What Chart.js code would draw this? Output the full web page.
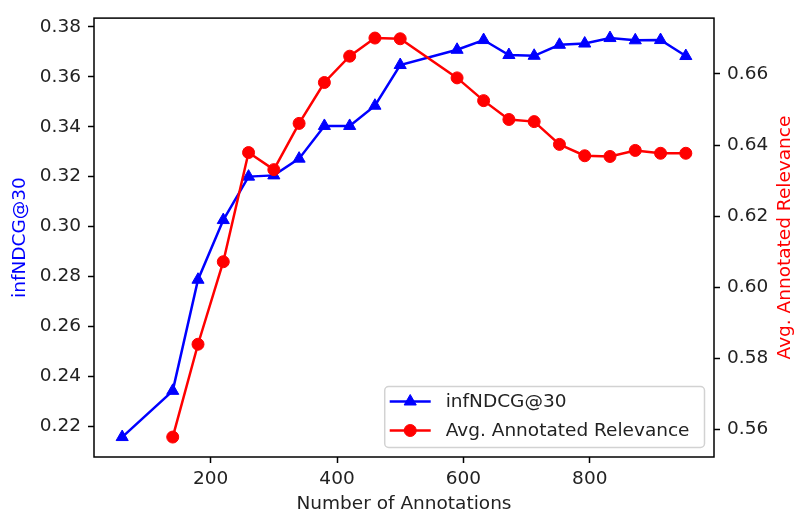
<!DOCTYPE html>
<html>
<head>
<meta charset="utf-8">
<script src="https://cdn.jsdelivr.net/npm/chart.js@4/dist/chart.umd.min.js"></script>
<style>
  html, body { margin: 0; padding: 0; background: #fff; }
  canvas { display: block; }
</style>
</head>
<body>
<canvas id="annotChart" width="795" height="515"></canvas>
<script>
// infNDCG@30 series (left axis)
const ndcgCounts = [60, 140, 180, 220, 260, 300, 340, 380, 420, 460, 500,
                    590, 632, 672, 712, 752, 792, 832, 872, 912, 952];
const ndcgValues = [0.2157, 0.2342, 0.2787, 0.3026, 0.3200, 0.3205, 0.3272, 0.3403, 0.3403, 0.3484, 0.3647,
                    0.3708, 0.3747, 0.3687, 0.3684, 0.3728, 0.3733, 0.3755, 0.3746, 0.3747, 0.3683];

// Avg. annotated relevance series (right axis)
const relevanceCounts = [140, 180, 220, 260, 300, 340, 380, 420, 460, 500,
                         590, 632, 672, 712, 752, 792, 832, 872, 912, 952];
const relevanceValues = [0.5579, 0.5840, 0.6072, 0.6379, 0.6331, 0.6461, 0.6576, 0.6650, 0.6701, 0.6699,
                         0.6589, 0.6525, 0.6472, 0.6466, 0.6402, 0.6370, 0.6368, 0.6385, 0.6377, 0.6377];

// tick labels
const xTicks = [200, 400, 600, 800];
const ndcgTicks = [0.22, 0.24, 0.26, 0.28, 0.30, 0.32, 0.34, 0.36, 0.38];
const relevanceTicks = [0.56, 0.58, 0.60, 0.62, 0.64, 0.66];

const FONT = 18.5;
const TEXT = '#222';
Chart.defaults.font.family = '"DejaVu Sans", sans-serif';
Chart.defaults.font.size = FONT;

// matplotlib style auto limits: 5% margin on each side
function paddedRange(values) {
    const lo = Math.min(...values);
    const hi = Math.max(...values);
    const pad = (hi - lo) * 0.05;
    return { min: lo - pad, max: hi + pad };
}

function toPoints(xs, ys) {
    return xs.map((x, i) => ({ x: x, y: ys[i] }));
}

const xRange = paddedRange(ndcgCounts.concat(relevanceCounts));
const ndcgRange = paddedRange(ndcgValues);
const relRange = paddedRange(relevanceValues);

const tickGrid = {
    drawOnChartArea: false,
    drawTicks: true,
    tickLength: 6,
    tickWidth: 1.5,
    tickColor: '#000',
    color: '#000',
};

// full box around the plot area
const framePlugin = {
    id: 'frame',
    afterDatasetsDraw(chart) {
        const { ctx, chartArea: a } = chart;
        ctx.save();
        ctx.strokeStyle = '#000';
        ctx.lineWidth = 1.5;
        ctx.strokeRect(a.left, a.top, a.right - a.left, a.bottom - a.top);
        ctx.restore();
    }
};

// right axis label reads bottom-to-top like matplotlib
const rightTitlePlugin = {
    id: 'rightTitle',
    afterDraw(chart) {
        const { ctx, chartArea: a } = chart;
        const scale = chart.scales.y1;
        ctx.save();
        ctx.translate(scale.right - 10, (a.top + a.bottom) / 2);
        ctx.rotate(-Math.PI / 2);
        ctx.font = `${FONT}px "DejaVu Sans"`;
        ctx.fillStyle = '#ff0000';
        ctx.textAlign = 'center';
        ctx.textBaseline = 'middle';
        ctx.fillText('Avg. Annotated Relevance', 0, 0);
        ctx.restore();
    }
};

// legend box in the lower right corner of the plot
const boxLegendPlugin = {
    id: 'boxLegend',
    afterDraw(chart) {
        const { ctx, chartArea: a } = chart;
        const sets = chart.data.datasets;
        ctx.save();
        ctx.font = `${FONT}px "DejaVu Sans"`;
        const textW = Math.max(...sets.map(d => ctx.measureText(d.label).width));
        const w = 61 + textW + 15;
        const h = 61;
        const right = a.right - 9.5;
        const bottom = a.bottom - 9.5;
        const left = right - w;
        const top = bottom - h;

        ctx.beginPath();
        ctx.roundRect(left, top, w, h, 4);
        ctx.fillStyle = 'rgba(255,255,255,0.8)';
        ctx.fill();
        ctx.strokeStyle = '#d2d2d2';
        ctx.lineWidth = 1.5;
        ctx.stroke();

        sets.forEach((d, i) => {
            const y = top + 15 + i * 29;
            ctx.strokeStyle = d.borderColor;
            ctx.lineWidth = d.borderWidth;
            ctx.beginPath();
            ctx.moveTo(left + 5, y);
            ctx.lineTo(left + 46, y);
            ctx.stroke();
            ctx.fillStyle = d.backgroundColor;
            ctx.lineWidth = 1;
            Chart.helpers.drawPoint(ctx, {
                pointStyle: d.pointStyle,
                radius: d.pointRadius,
                rotation: 0,
                borderWidth: 1
            }, left + 25.5, y);
            ctx.fillStyle = TEXT;
            ctx.textAlign = 'left';
            ctx.textBaseline = 'middle';
            ctx.fillText(d.label, left + 61, y + 1);
        });
        ctx.restore();
    }
};

function createChart(ctx) {
    return new Chart(ctx, {
        type: 'line',
        data: {
            datasets: [{
                label: 'infNDCG@30',
                data: toPoints(ndcgCounts, ndcgValues),
                yAxisID: 'y',
                order: 1,
                borderColor: '#0000ff',
                backgroundColor: '#0000ff',
                borderWidth: 2.5,
                pointStyle: 'triangle',
                pointRadius: 7,
                pointBorderWidth: 1,
                pointBorderColor: '#0000ff',
                pointBackgroundColor: '#0000ff',
                tension: 0,
            }, {
                label: 'Avg. Annotated Relevance',
                data: toPoints(relevanceCounts, relevanceValues),
                yAxisID: 'y1',
                order: 0,
                borderColor: '#ff0000',
                backgroundColor: '#ff0000',
                borderWidth: 2.5,
                pointStyle: 'circle',
                pointRadius: 6,
                pointBorderWidth: 1,
                pointBorderColor: '#ff0000',
                pointBackgroundColor: '#ff0000',
                tension: 0,
            }],
        },
        options: {
            responsive: false,
            animation: false,
            devicePixelRatio: 1,
            layout: { padding: { top: 13, left: 0, right: 0, bottom: 0 } },
            plugins: {
                legend: { display: false },
                tooltip: { enabled: false },
            },
            scales: {
                x: {
                    type: 'linear',
                    position: 'bottom',
                    min: xRange.min,
                    max: xRange.max,
                    afterBuildTicks: s => { s.ticks = xTicks.map(v => ({ value: v })); },
                    afterFit: s => { s.height = 58; },
                    grid: tickGrid,
                    border: { display: false },
                    ticks: { color: TEXT, padding: 5, maxRotation: 0, callback: v => String(v) },
                    title: { display: true, text: 'Number of Annotations', color: TEXT, padding: 0 },
                },
                y: {
                    type: 'linear',
                    position: 'left',
                    min: ndcgRange.min,
                    max: ndcgRange.max,
                    afterBuildTicks: s => { s.ticks = ndcgTicks.map(v => ({ value: v })); },
                    afterFit: s => { s.width = 94; },
                    grid: tickGrid,
                    border: { display: false },
                    ticks: { color: TEXT, padding: 7, callback: v => v.toFixed(2) },
                    title: { display: true, text: 'infNDCG@30', color: '#0000ff', padding: { top: 9, bottom: 0 } },
                },
                y1: {
                    type: 'linear',
                    position: 'right',
                    min: relRange.min,
                    max: relRange.max,
                    afterBuildTicks: s => { s.ticks = relevanceTicks.map(v => ({ value: v })); },
                    afterFit: s => { s.width = 81; },
                    grid: tickGrid,
                    border: { display: false },
                    ticks: { color: TEXT, padding: 7, callback: v => v.toFixed(2) },
                    title: { display: false },
                },
            },
        },
        plugins: [framePlugin, rightTitlePlugin, boxLegendPlugin],
    });
}

window.onload = () => {
    const ctx = document.getElementById('annotChart').getContext('2d');
    createChart(ctx);
};
</script>
</body>
</html>
